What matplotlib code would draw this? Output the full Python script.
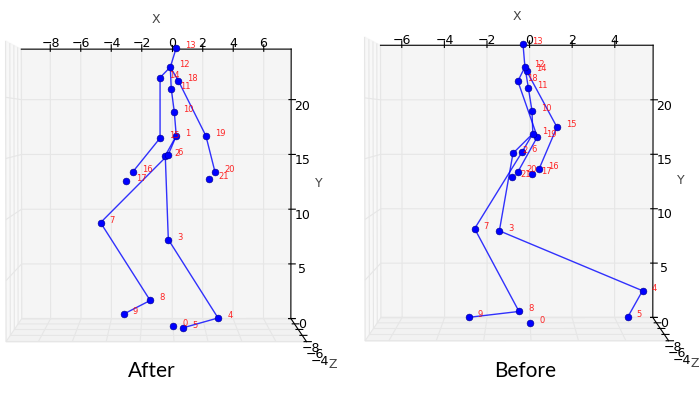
import matplotlib
matplotlib.use('Agg')
from matplotlib import pyplot as plt

# joint coordinates, index = joint number
after_x = [0.07, 0.26, -0.46, -0.26, 3.0, 0.7, -0.26, -4.7, -1.45, -3.2, 0.13, -0.07, -0.13, 0.26, -0.8, -0.8, -2.6, -3.0, 0.4, 2.2, 2.8, 2.4]
after_y = [-0.6, 16.7, 14.9, 7.26, 0.1, -0.8, 15.0, 8.8, 1.7, 0.45, 18.9, 21.0, 22.95, 24.7, 22.0, 16.5, 13.4, 12.6, 21.7, 16.7, 13.4, 12.8]
before_x = [0.03, 0.15, -0.78, -1.42, 5.3, 4.6, -0.36, -2.58, -0.5, -2.86, 0.11, -0.06, -0.22, -0.31, -0.13, 1.28, 0.45, 0.13, -0.55, 0.36, -0.55, -0.83]
before_y = [-0.5, 16.9, 15.1, 8.0, 2.5, 0.06, 15.2, 8.2, 0.6, 0.06, 19.0, 21.1, 23.0, 25.1, 22.6, 17.5, 13.7, 13.2, 21.7, 16.6, 13.4, 12.9]
joint_z = -11.8
z_ticks = [-12, -10, -8, -6, -4]
z_labels = ['', '', '\u22128', '\u22126', '\u22124']
edges = [(1, 2), (2, 3), (3, 4), (4, 5), (1, 6), (6, 7), (7, 8), (8, 9), (1, 10), (10, 11), (11, 12), (12, 13),
	(12, 14), (14, 15), (15, 16), (12, 18), (18, 19), (19, 20)]


def skeleton(pos, xs, ys, xlim, ytop, xticks, off, xpad, name_x, name_y, name):
	ax = fig.add_axes(pos, projection='3d')
	ax.patch.set_alpha(0)
	ax.set_box_aspect((4, 4, 4))
	zs = [joint_z] * len(xs)
	for a, b in edges:
		ax.plot([xs[a], xs[b]], [ys[a], ys[b]], [joint_z, joint_z], color='b', lw=1, alpha=0.8)
	ax.scatter(xs, ys, zs, color='b', edgecolor='#000088', linewidth=0.4, s=24, depthshade=False)
	for i in range(len(xs)):
		ax.text(xs[i] + off, ys[i], joint_z, str(i), color='r', fontsize=6, alpha=0.85)
	ax.set_xlim(*xlim)
	ax.set_ylim(0, ytop)
	ax.set_zlim(-12, -4)
	ax.set_xticks(xticks)
	ax.set_yticks([0, 5, 10, 15, 20])
	ax.set_zticks(z_ticks, z_labels)
	ax.set_xlabel('X', fontsize=9, color='#444444', labelpad=xpad)
	ax.set_ylabel('Y', fontsize=9, color='#444444', labelpad=-1.6)
	ax.set_zlabel('Z', fontsize=9, color='#444444', labelpad=1)
	ax.tick_params(labelsize=9, pad=0)
	ax.tick_params(axis='z', pad=0)
	ax.view_init(elev=91.5, azim=-90.01)
	for a in (ax.xaxis, ax.yaxis, ax.zaxis):
		a._axinfo['grid']['color'] = '#e6e6e6'
		a._axinfo['grid']['linewidth'] = 0.8
	fig.text(name_x, name_y, name, fontsize=15, family='Lato', ha='center', va='center')


fig = plt.figure(figsize=(7, 3.98), dpi=100)
skeleton([-0.1275, -0.1075, 0.683, 1.24], after_x, after_y, (-9.9, 7.8), 24.6, [-8, -6, -4, -2, 0, 2, 4, 6], 0.6, -0.5, 0.217, 0.067, 'After')
skeleton([0.384, -0.0945, 0.69, 1.226], before_x, before_y, (-7, 5.8), 25, [-6, -4, -2, 0, 2, 4], 0.42, -1.3, 0.75, 0.067, 'Before')
fig.savefig('out.png', dpi=100)
